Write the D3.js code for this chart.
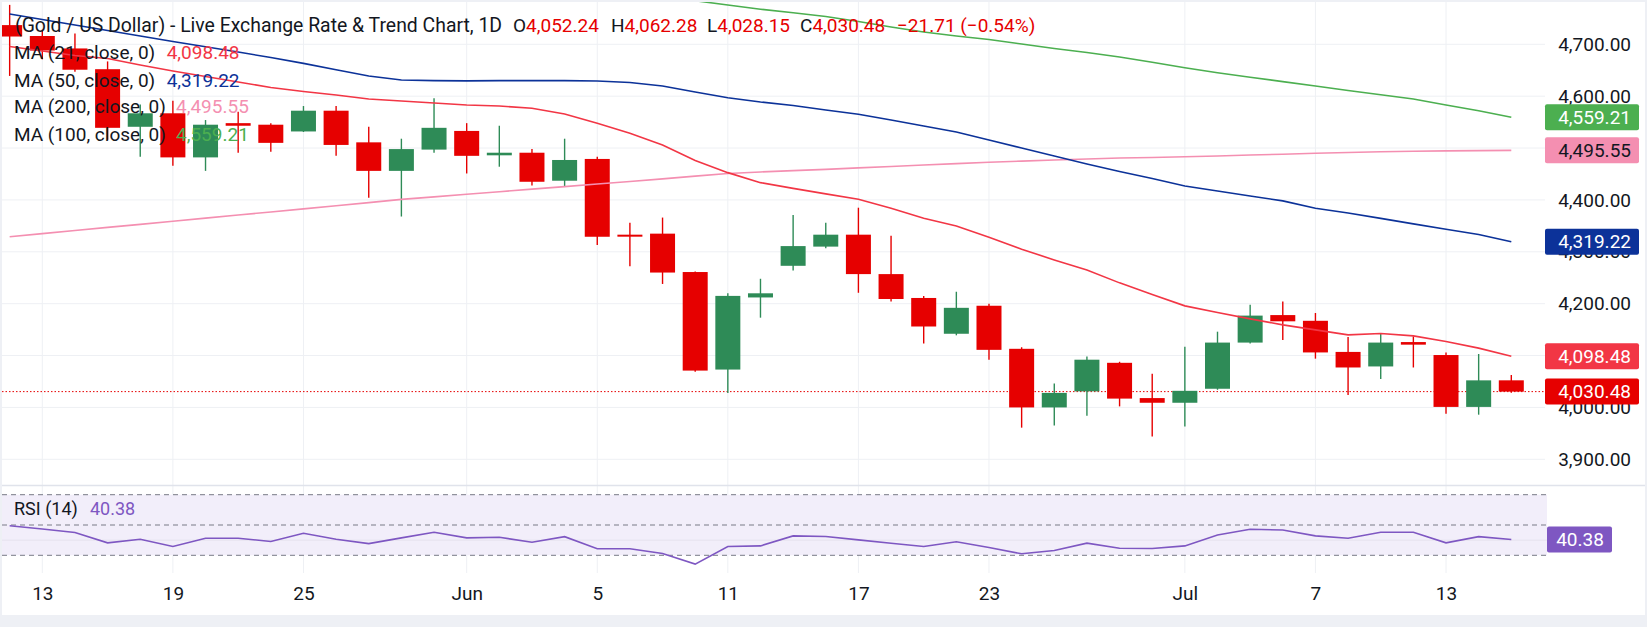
<!DOCTYPE html>
<html>
<head>
<meta charset="utf-8">
<script src="https://cdn.jsdelivr.net/npm/d3@7"></script>
<style>
  body { margin: 0; background: #fff; }
  svg { display: block; font-family: Roboto, "Noto Sans", sans-serif; }
</style>
</head>
<body>
<svg id="chart" width="1647" height="627"></svg>
<script>
// daily candles, XAU/USD
const dates = [
  "2026-05-12", "2026-05-13", "2026-05-14", "2026-05-15", "2026-05-18", "2026-05-19", "2026-05-20",
  "2026-05-21", "2026-05-22", "2026-05-25", "2026-05-26", "2026-05-27", "2026-05-28", "2026-05-29",
  "2026-06-01", "2026-06-02", "2026-06-03", "2026-06-04", "2026-06-05", "2026-06-08", "2026-06-09",
  "2026-06-10", "2026-06-11", "2026-06-12", "2026-06-15", "2026-06-16", "2026-06-17", "2026-06-18",
  "2026-06-19", "2026-06-22", "2026-06-23", "2026-06-24", "2026-06-25", "2026-06-26", "2026-06-29",
  "2026-06-30", "2026-07-01", "2026-07-02", "2026-07-03", "2026-07-06", "2026-07-07", "2026-07-08",
  "2026-07-09", "2026-07-10", "2026-07-13", "2026-07-14", "2026-07-15",
];
const opens = [
  4737, 4716, 4692, 4652, 4541, 4567, 4482, 4548, 4545, 4532, 4572, 4511, 4456, 4497,
  4533, 4486, 4491, 4437, 4479, 4333, 4335, 4261, 4073, 4212, 4273, 4310, 4333, 4257,
  4211, 4142, 4196, 4113, 4000, 4031, 4086, 4018, 4009, 4036, 4125, 4178, 4167, 4107,
  4079, 4126, 4101, 4001, 4052.24,
];
const highs = [
  4776, 4728, 4721, 4667, 4584, 4591, 4554, 4570, 4548, 4581, 4581, 4541, 4518, 4596,
  4548, 4543, 4498, 4518, 4483, 4356, 4366, 4262, 4220, 4248, 4371, 4356, 4385, 4331,
  4215, 4223, 4200, 4116, 4046, 4098, 4088, 4065, 4117, 4146, 4198, 4204, 4182, 4136,
  4143, 4137, 4106, 4103, 4062.28,
];
const lows = [
  4639, 4671, 4647, 4516, 4483, 4466, 4456, 4491, 4493, 4531, 4485, 4404, 4368, 4491,
  4451, 4464, 4428, 4426, 4313, 4272, 4238, 4069, 4028, 4173, 4264, 4307, 4221, 4204,
  4123, 4139, 4092, 3961, 3965, 3984, 4002, 3944, 3963, 4034, 4123, 4130, 4094, 4024,
  4055, 4077, 3988, 3986, 4028.15,
];
const closes = [
  4715, 4688, 4651, 4539, 4567, 4482, 4545, 4543, 4510, 4572, 4506, 4456, 4498, 4539,
  4485, 4491, 4435, 4477, 4329, 4331, 4260, 4071, 4215, 4220, 4311, 4333, 4257, 4209,
  4156, 4192, 4111, 4000, 4028, 4092, 4017, 4009, 4032, 4125, 4177, 4166, 4106, 4077,
  4125, 4121, 4001, 4052.19, 4030.48,
];

const ma21 = [
  4695.8, 4687.1, 4678.4, 4672.6, 4660.1, 4648.6, 4638, 4627.4, 4616.8, 4609.1, 4602.3, 4594.6,
  4590.8, 4586.9, 4583, 4581.1, 4576.7, 4565.7, 4547.8, 4528.5, 4506, 4476.1, 4452.6, 4433.3,
  4422.2, 4411.6, 4401.3, 4384, 4364.7, 4349.9, 4328.1, 4305, 4284.4, 4265.1, 4240.1, 4217.9,
  4195.8, 4182.9, 4170.7, 4159.2, 4149.5, 4139.9, 4142.4, 4137.9, 4127, 4114.3, 4098.48,
];
const ma50 = [
  4758.4, 4747.8, 4737.2, 4726.6, 4716, 4705.4, 4695.2, 4685, 4674.6, 4663.2, 4650.8, 4638.9,
  4631.2, 4630, 4629.5, 4630, 4630, 4630, 4629.3, 4626.4, 4619.7, 4608.1, 4597.1, 4588.8,
  4582.1, 4573.4, 4565.1, 4554.1, 4542.6, 4531, 4515.6, 4500.2, 4484.8, 4469.4, 4454.9, 4441.4,
  4427, 4417.3, 4407.7, 4398.1, 4384, 4374.9, 4364.4, 4353.8, 4343.6, 4333.5, 4319.22,
];
const ma100 = [
  null, null, null, null, null, null, null, null, null, null, null, null,
  null, null, null, null, null, null, null, 4802, 4793, 4784, 4775.7, 4767.6,
  4760.9, 4753.6, 4743.9, 4733.3, 4723.7, 4716, 4709.2, 4700.6, 4691.9, 4684.2, 4675.5, 4665.3,
  4654.9, 4645.3, 4636.4, 4628.1, 4619.7, 4611, 4602.9, 4594.6, 4583, 4571.9, 4559.21,
];
const ma200 = [
  4328.9, 4335, 4341, 4347, 4352.9, 4358.9, 4364.9, 4370.8, 4376.8, 4382.8, 4388.8, 4394.8,
  4401, 4405.8, 4410.8, 4415.8, 4420.8, 4425.6, 4430.8, 4435.6, 4440.5, 4445.9, 4451, 4453.9,
  4456.5, 4458.8, 4461.7, 4464.5, 4467.4, 4469.9, 4472.6, 4474.8, 4477.1, 4479, 4480.9, 4481.9,
  4483.2, 4484.8, 4486.7, 4488.1, 4490, 4491.5, 4492.9, 4493.9, 4494.6, 4495.1, 4495.55,
];
const rsi = [
  49.5, 47.4, 45, 38.2, 40.6, 35.8, 41.3, 41.3, 39.1, 44.5, 40.6, 37.7, 41.5, 45.2, 41.5, 41.9,
  38.6, 42.3, 34.3, 34.3, 31.2, 24.2, 35.8, 36.2, 42.8, 42.4, 40.2, 38, 35.8, 38.9, 35.1, 31,
  33.2, 38, 34.7, 34.5, 36.2, 43.4, 47.2, 46.7, 42.8, 41.3, 45.2, 45.2, 38.2, 42.3, 40.38,
];

const priceTicks = [3900, 4000, 4100, 4200, 4300, 4400, 4500, 4600, 4700];
const rsiBands = [70, 50, 30];
const tickDates = [
  "2026-05-13", "2026-05-19", "2026-05-25", "2026-06-01", "2026-06-05", "2026-06-11",
  "2026-06-17", "2026-06-23", "2026-07-01", "2026-07-07", "2026-07-13",
];
const tickLabels = ["13", "19", "25", "Jun", "5", "11", "17", "23", "Jul", "7", "13"];

const UP = "#2e8b57";
const DOWN = "#e60000";
const TEXT = "#131722";
const GRID = "#eef0f4";
const fmt = d3.format(",.2f");

const x = d3.scalePoint().domain(dates).range([9.66, 1511.3]);
const y = d3.scaleLinear().domain([3900, 4700]).range([459.3, 44.3]);
const yR = d3.scaleLinear().domain([30, 70]).range([555.3, 494.7]);

const svg = d3.select("#chart");

svg.append("rect").attr("width", 1647).attr("height", 627).attr("fill", "#eef0f5");
svg.append("rect").attr("x", 2).attr("y", 2).attr("width", 1643).attr("height", 613).attr("fill", "#fff");

const defs = svg.append("defs");
defs.append("clipPath").attr("id", "mainClip")
  .append("rect").attr("x", 2).attr("y", 2).attr("width", 1543).attr("height", 483);
defs.append("clipPath").attr("id", "rsiClip")
  .append("rect").attr("x", 2).attr("y", 486).attr("width", 1545).attr("height", 87);

// grid
svg.append("g")
  .selectAll("line")
  .data(priceTicks)
  .enter()
  .append("line")
  .attr("x1", 2)
  .attr("x2", 1545)
  .attr("y1", (d) => y(d))
  .attr("y2", (d) => y(d))
  .attr("stroke", GRID)
  .attr("stroke-width", 1);

svg.append("g")
  .selectAll("line")
  .data(tickDates)
  .enter()
  .append("line")
  .attr("x1", (d) => x(d))
  .attr("x2", (d) => x(d))
  .attr("y1", 2)
  .attr("y2", 573)
  .attr("stroke", GRID)
  .attr("stroke-width", 1);

// pane separator
svg.append("line")
  .attr("x1", 2).attr("x2", 1645)
  .attr("y1", 485.5).attr("y2", 485.5)
  .attr("stroke", "#e0e3eb")
  .attr("stroke-width", 1.5);

// RSI pane
const rsiPane = svg.append("g").attr("clip-path", "url(#rsiClip)");
rsiPane.append("rect")
  .attr("x", 2)
  .attr("y", yR(70))
  .attr("width", 1545)
  .attr("height", yR(30) - yR(70))
  .attr("fill", "#f2eefa");
rsiPane.append("line")
  .attr("x1", 2).attr("x2", 1547)
  .attr("y1", yR(40)).attr("y2", yR(40))
  .attr("stroke", "#e6e2ee");
rsiPane.selectAll(".band")
  .data(rsiBands)
  .enter()
  .append("line")
  .attr("class", "band")
  .attr("x1", 2).attr("x2", 1547)
  .attr("y1", (d) => yR(d)).attr("y2", (d) => yR(d))
  .attr("stroke", "#787b86")
  .attr("stroke-width", 1)
  .attr("stroke-dasharray", "5,4");
rsiPane.append("path")
  .datum(rsi)
  .attr("fill", "none")
  .attr("stroke", "#7e57c2")
  .attr("stroke-width", 1.6)
  .attr("d", d3.line().x((d, i) => x(dates[i])).y((d) => yR(d)));

// main pane
const main = svg.append("g").attr("clip-path", "url(#mainClip)");

main.append("line")
  .attr("x1", 2).attr("x2", 1545)
  .attr("y1", y(closes[closes.length - 1])).attr("y2", y(closes[closes.length - 1]))
  .attr("stroke", DOWN)
  .attr("stroke-width", 1)
  .attr("stroke-dasharray", "1.5,2");

const candles = dates.map((d, i) => ({ date: d, o: opens[i], h: highs[i], l: lows[i], c: closes[i] }));
const cg = main.selectAll(".candle").data(candles).enter().append("g").attr("class", "candle");
cg.append("line")
  .attr("x1", (d) => x(d.date))
  .attr("x2", (d) => x(d.date))
  .attr("y1", (d) => y(d.h))
  .attr("y2", (d) => y(d.l))
  .attr("stroke", (d) => (d.c >= d.o ? UP : DOWN))
  .attr("stroke-width", 1.4);
cg.append("rect")
  .attr("x", (d) => x(d.date) - 12.5)
  .attr("width", 25)
  .attr("y", (d) => y(Math.max(d.o, d.c)))
  .attr("height", (d) => Math.max(2, Math.abs(y(d.o) - y(d.c))))
  .attr("fill", (d) => (d.c >= d.o ? UP : DOWN));

const maLine = d3.line()
  .defined((d) => d != null)
  .x((d, i) => x(dates[i]))
  .y((d) => y(d));

const maSeries = [
  { values: ma200, color: "#f48fb1" },
  { values: ma100, color: "#4caf50" },
  { values: ma50, color: "#0c3299" },
  { values: ma21, color: "#f23645" },
];
maSeries.forEach((s) => {
  main.append("path")
    .datum(s.values)
    .attr("fill", "none")
    .attr("stroke", s.color)
    .attr("stroke-width", 1.6)
    .attr("d", maLine);
});

// price axis
const yAxis = d3.axisRight(y).tickValues(priceTicks).tickFormat(fmt).tickSize(0);
const yAxisG = svg.append("g").attr("transform", "translate(1631,0)").call(yAxis);
yAxisG.select(".domain").remove();
yAxisG.selectAll("text")
  .attr("x", 0)
  .attr("text-anchor", "end")
  .attr("fill", TEXT)
  .style("font-size", "19px")
  .style("font-family", "Roboto, 'Noto Sans', sans-serif");

// last-value boxes
const last = (arr) => arr[arr.length - 1];
const boxes = [
  { v: last(ma100), fill: "#4caf50", text: "#fff" },
  { v: last(ma200), fill: "#f48fb1", text: TEXT },
  { v: last(ma50), fill: "#0c3299", text: "#fff" },
  { v: last(ma21), fill: "#f23645", text: "#fff" },
  { v: last(closes), fill: DOWN, text: "#fff" },
];
const bg = svg.selectAll(".lastbox").data(boxes).enter().append("g").attr("class", "lastbox");
bg.append("rect")
  .attr("x", 1545)
  .attr("y", (d) => y(d.v) - 13)
  .attr("width", 94)
  .attr("height", 26)
  .attr("rx", 2)
  .attr("fill", (d) => d.fill);
bg.append("text")
  .attr("x", 1631)
  .attr("y", (d) => y(d.v))
  .attr("dy", "0.35em")
  .attr("text-anchor", "end")
  .attr("fill", (d) => d.text)
  .style("font-size", "19px")
  .text((d) => fmt(d.v));

const rsiLast = last(rsi);
svg.append("rect")
  .attr("x", 1547)
  .attr("y", yR(rsiLast) - 13)
  .attr("width", 65)
  .attr("height", 26)
  .attr("rx", 2)
  .attr("fill", "#7e57c2");
svg.append("text")
  .attr("x", 1580)
  .attr("y", yR(rsiLast))
  .attr("dy", "0.35em")
  .attr("text-anchor", "middle")
  .attr("fill", "#fff")
  .style("font-size", "19px")
  .text(d3.format(".2f")(rsiLast));

// time axis
const xAxis = d3.axisBottom(x)
  .tickValues(tickDates)
  .tickFormat((d, i) => tickLabels[i])
  .tickSize(0)
  .tickPadding(0);
const xAxisG = svg.append("g").attr("transform", "translate(0,593)").call(xAxis);
xAxisG.select(".domain").remove();
xAxisG.selectAll("text")
  .attr("y", 0)
  .attr("dy", "0.35em")
  .attr("fill", TEXT)
  .style("font-size", "19px")
  .style("font-family", "Roboto, 'Noto Sans', sans-serif");

// legend
svg.append("text")
  .attr("x", 15)
  .attr("y", 25)
  .attr("dy", "0.35em")
  .style("font-size", "19.4px")
  .attr("fill", TEXT)
  .text("(Gold / US Dollar) - Live Exchange Rate & Trend Chart, 1D");

const ohlc = [
  { k: "O", v: fmt(last(opens)), x: 513 },
  { k: "H", v: fmt(last(highs)), x: 611 },
  { k: "L", v: fmt(last(lows)), x: 707 },
  { k: "C", v: fmt(last(closes)), x: 800 },
];
ohlc.forEach((d) => {
  const t = svg.append("text")
    .attr("x", d.x)
    .attr("y", 25)
    .attr("dy", "0.35em")
    .style("font-size", "19px");
  t.append("tspan").attr("fill", TEXT).text(d.k);
  t.append("tspan").attr("fill", DOWN).text(d.v);
});
const prevClose = closes[closes.length - 2];
const chg = last(closes) - prevClose;
svg.append("text")
  .attr("x", 897)
  .attr("y", 25)
  .attr("dy", "0.35em")
  .style("font-size", "19px")
  .attr("fill", DOWN)
  .text(`${d3.format(".2f")(chg)} (\u2212${d3.format(".2f")(Math.abs(chg / prevClose) * 100)}%)`);

const legendRows = [
  { label: "MA (21, close, 0)", v: last(ma21), color: "#f23645", y: 52.7, vx: 166.7 },
  { label: "MA (50, close, 0)", v: last(ma50), color: "#0c3299", y: 80, vx: 166.7 },
  { label: "MA (200, close, 0)", v: last(ma200), color: "#f48fb1", y: 106.7, vx: 176 },
  { label: "MA (100, close, 0)", v: last(ma100), color: "#4caf50", y: 134, vx: 176 },
];
legendRows.forEach((r) => {
  svg.append("text")
    .attr("x", 14)
    .attr("y", r.y)
    .attr("dy", "0.35em")
    .style("font-size", "19px")
    .attr("fill", TEXT)
    .text(r.label);
  svg.append("text")
    .attr("x", r.vx)
    .attr("y", r.y)
    .attr("dy", "0.35em")
    .style("font-size", "19px")
    .attr("fill", r.color)
    .text(fmt(r.v));
});

svg.append("text")
  .attr("x", 14)
  .attr("y", 509)
  .attr("dy", "0.35em")
  .style("font-size", "18px")
  .attr("fill", TEXT)
  .text("RSI (14)");
svg.append("text")
  .attr("x", 90)
  .attr("y", 509)
  .attr("dy", "0.35em")
  .style("font-size", "18px")
  .attr("fill", "#7e57c2")
  .text(d3.format(".2f")(rsiLast));
</script>
</body>
</html>
